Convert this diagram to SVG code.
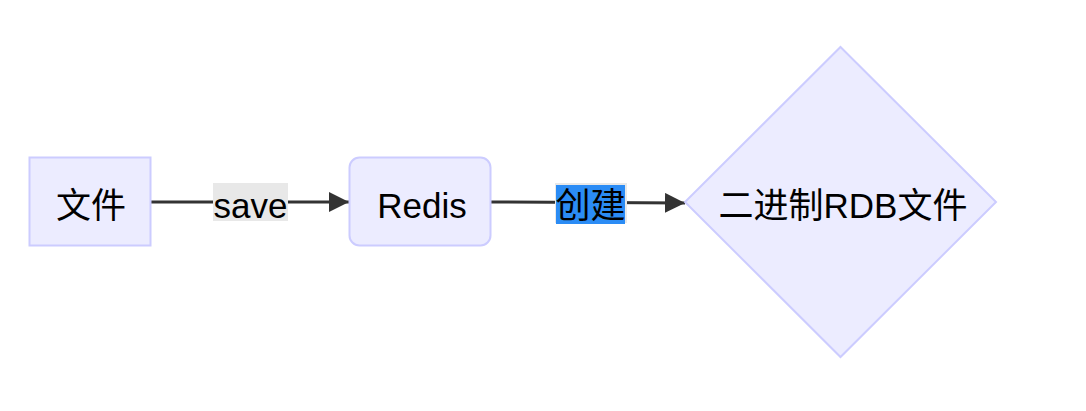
<svg xmlns="http://www.w3.org/2000/svg" width="1086" height="411" viewBox="0 0 1086 411">
<style>
.node{fill:#ECECFF;stroke:#CCCCFF;stroke-width:2}
.edge{stroke:#333333;stroke-width:3;fill:none}
.t{font-family:"Liberation Sans","Noto Sans CJK SC",Arial,sans-serif;font-size:35px;fill:#000;text-anchor:middle;dominant-baseline:central}
.lbg{fill:#E8E8E8}
</style>
<defs>
<marker id="arrow" markerUnits="userSpaceOnUse" viewBox="0 0 20 20" refX="20" refY="10" markerWidth="20" markerHeight="20" orient="auto">
<path d="M0,0 L20,10 L0,20 Z" fill="#333333"/>
</marker>
</defs>
<rect width="1086" height="411" fill="#FFFFFF"/>
<g id="connectors">
<g id="edge-save">
<line class="edge" x1="151" y1="202" x2="349" y2="202" marker-end="url(#arrow)"/>
<rect class="lbg" x="213" y="183" width="75" height="38"/>
<text class="t" x="250.5" y="205">save</text>
</g>
<g id="edge-create">
<line class="edge" x1="491" y1="202" x2="685" y2="203" marker-end="url(#arrow)"/>
<rect class="lbg" x="555" y="183" width="72" height="40"/>
<rect fill="#2B8CF5" x="556" y="185" width="69" height="39"/>
<text class="t" x="590.5" y="205">创建</text>
</g>
</g>
<g id="node-file">
<rect class="node" x="29.5" y="157.5" width="121" height="88"/>
<text class="t" x="91" y="205">文件</text>
</g>
<g id="node-redis">
<rect class="node" x="349.5" y="157.5" width="141" height="88" rx="10" ry="10"/>
<text class="t" x="422" y="205">Redis</text>
</g>
<g id="node-rdb">
<polygon class="node" points="840.5,47 996,202 840.5,357 685,202"/>
<text class="t" x="843" y="205">二进制RDB文件</text>
</g>
</svg>
